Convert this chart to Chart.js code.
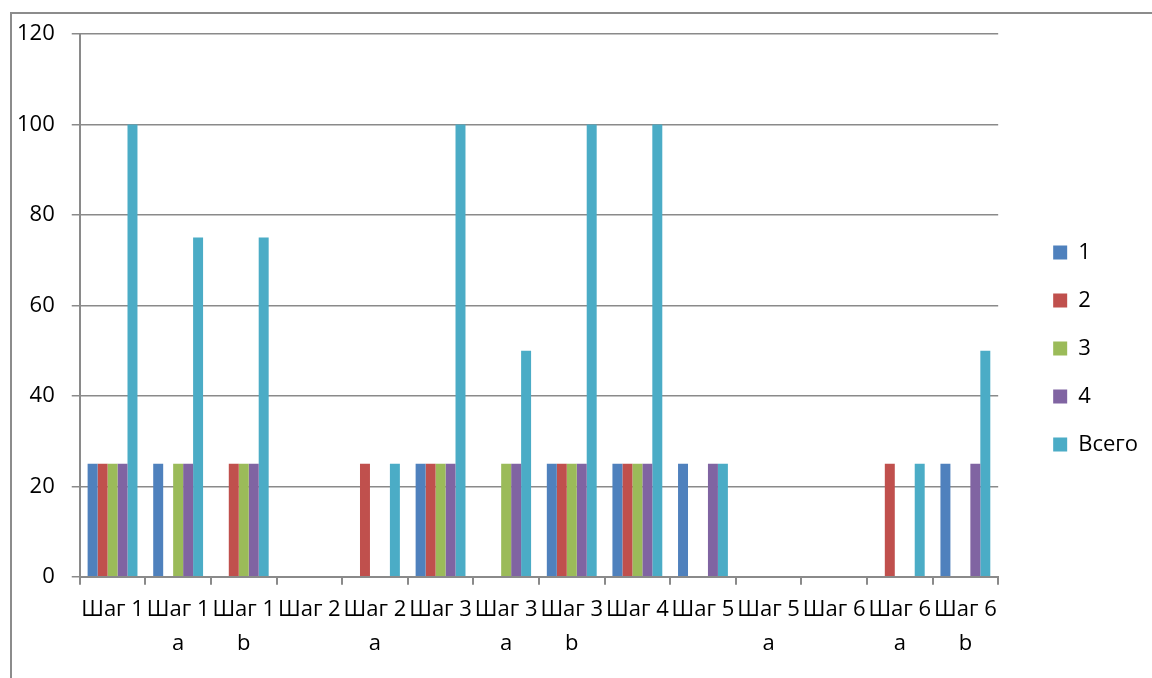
<!DOCTYPE html>
<html>
<head>
<meta charset="utf-8">
<script src="https://cdn.jsdelivr.net/npm/chart.js@4/dist/chart.umd.min.js"></script>
<style>
  html, body { margin: 0; padding: 0; background: #fff; }
  #frame { position: absolute; left: 10px; top: 12px; width: 1200px; height: 700px;
           border-left: 2px solid #8c8c8c; border-top: 2px solid #8c8c8c; }
  #wrap { position: absolute; left: 0; top: 0; width: 1152px; height: 678px; }
</style>
</head>
<body>
<div id="frame"></div>
<div id="wrap"><canvas id="chart"></canvas></div>
<script>
// categories (multi-line labels, second line is the wrapped letter)
const categories = [
  ['Шаг 1'], ['Шаг 1', 'a'], ['Шаг 1', 'b'], ['Шаг 2'], ['Шаг 2', 'a'],
  ['Шаг 3'], ['Шаг 3', 'a'], ['Шаг 3', 'b'], ['Шаг 4'], ['Шаг 5'],
  ['Шаг 5', 'a'], ['Шаг 6'], ['Шаг 6', 'a'], ['Шаг 6', 'b']
];
const seriesNames = ['1', '2', '3', '4', 'Всего'];
const s1 =    [25, 25, 0, 0, 0, 25, 0, 25, 25, 25, 0, 0, 0, 25];
const s2 =    [25, 0, 25, 0, 25, 25, 0, 25, 25, 0, 0, 0, 25, 0];
const s3 =    [25, 25, 25, 0, 0, 25, 25, 25, 25, 0, 0, 0, 0, 0];
const s4 =    [25, 25, 25, 0, 0, 25, 25, 25, 25, 25, 0, 0, 0, 25];
const total = [100, 75, 75, 0, 25, 100, 50, 100, 100, 25, 0, 0, 25, 50];
const yTicks = [0, 20, 40, 60, 80, 100, 120];

const colors = ['#4F81BD', '#C0504D', '#9BBB59', '#8064A2', '#4BACC6'];
const values = [s1, s2, s3, s4, total];

const font = { family: "'Open Sans', 'Liberation Sans', sans-serif", size: 22 };
const gridColor = '#8a8a8a';

// keep a gap between the plot and the legend, like the original
const legendShift = {
  id: 'legendShift',
  afterLayout(chart) {
    const lg = chart.legend;
    if (lg) {
      lg.left += 29; lg.right += 29;
      lg.top -= 3; lg.bottom -= 3;
    }
  }
};

new Chart(document.getElementById('chart'), {
  type: 'bar',
  data: {
    labels: categories,
    datasets: seriesNames.map((name, i) => ({
      label: name,
      data: values[i],
      backgroundColor: colors[i],
      borderWidth: 0,
      categoryPercentage: 0.76,
      barPercentage: 1.0
    }))
  },
  options: {
    responsive: true,
    maintainAspectRatio: false,
    animation: false,
    layout: { padding: { left: 0, top: 34, right: 33, bottom: 9 } },
    plugins: {
      legend: {
        position: 'right',
        labels: {
          color: '#000',
          font: font,
          boxWidth: 14,
          boxHeight: 14,
          padding: 26
        }
      },
      tooltip: { enabled: false }
    },
    scales: {
      x: {
        offset: true,
        grid: {
          offset: true,
          drawOnChartArea: false,
          color: gridColor,
          lineWidth: 2,
          tickLength: 8
        },
        border: { color: gridColor, width: 2 },
        ticks: {
          color: '#000',
          font: Object.assign({}, font, { lineHeight: 1.55 }),
          autoSkip: false,
          maxRotation: 0,
          minRotation: 0,
          padding: 8
        }
      },
      y: {
        min: 0,
        max: 120,
        afterBuildTicks: axis => { axis.ticks = yTicks.map(v => ({ value: v })); },
        grid: { color: gridColor, lineWidth: 1.5, tickLength: 8 },
        border: { color: gridColor, width: 2 },
        ticks: { color: '#000', font: font, padding: 17 }
      }
    }
  },
  plugins: [legendShift]
});
</script>
</body>
</html>
